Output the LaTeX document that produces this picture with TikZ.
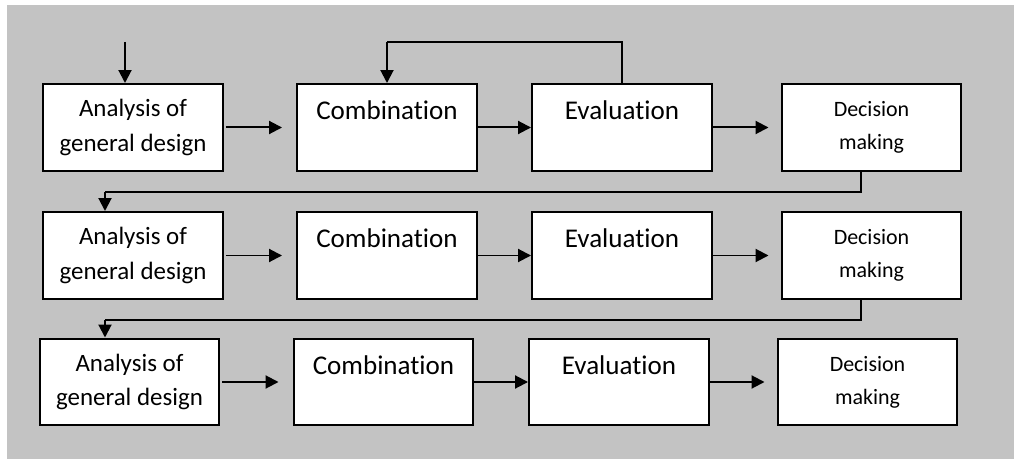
\documentclass[tikz,border=0pt]{standalone}
\usepackage{fontspec}
\setmainfont{Carlito}[Ligatures={NoCommon}]
\usetikzlibrary{arrows.meta}
\definecolor{panelgray}{RGB}{195,195,195}

\tikzset{
  stage/.style={draw=black, fill=white, line width=0.04cm, minimum width=3.6cm,
    minimum height=1.74cm, inner sep=0pt, align=center},
  anbox/.style={stage, font=\fontsize{14.2}{19.4}\selectfont},
  bigbox/.style={stage, font=\fontsize{15.4}{19.4}\selectfont},
  dmbox/.style={stage, font=\fontsize{12.5}{18.8}\selectfont},
  flow/.style={line width=0.04cm, -{Triangle[length=0.26cm, width=0.26cm]}},
  link/.style={line width=0.04cm}
}

\begin{document}
\begin{tikzpicture}[x=0.02cm, y=-0.02cm]

        % Background panel
        \useasboundingbox (0,0) rectangle (1014,459);
        \fill[panelgray] (7,5) rectangle (1014,459);

        % First row
        \node[anbox] (an1) at (133,127.5) {Analysis of\\general design};
        \node[bigbox] (cb1) at (387,127.5) {Combination\\~};
        \node[bigbox] (ev1) at (622,127.5) {Evaluation\\~};
        \node[dmbox] (dm1) at (871.5,127.5) {Decision\\making};

        % Second row
        \node[anbox] (an2) at (133,255.5) {Analysis of\\general design};
        \node[bigbox] (cb2) at (387,255.5) {Combination\\~};
        \node[bigbox] (ev2) at (622,255.5) {Evaluation\\~};
        \node[dmbox] (dm2) at (871.5,255.5) {Decision\\making};

        % Third row
        \node[anbox] (an3) at (129.5,382) {Analysis of\\general design};
        \node[bigbox] (cb3) at (383.5,382) {Combination\\~};
        \node[bigbox] (ev3) at (619,382) {Evaluation\\~};
        \node[dmbox] (dm3) at (867.5,382) {Decision\\making};

        % Bend points
        \coordinate (in) at (125,42);
        \coordinate (fb) at (387,42);
        \coordinate (b12) at (105,192);
        \coordinate (b23) at (105,320);

        % Input and feedback
        \draw[flow] (in) -- (in |- an1.north);
        \draw[link] (ev1.north) |- (fb);
        \draw[flow] (fb) -- (cb1.north);

        % Arrows along the rows
        \foreach \r in {1,2,3} {
          \draw[flow, shorten <=0.04cm, shorten >=0.28cm] (an\r.east) -- (cb\r.west);
          \draw[flow] (cb\r.east) -- (ev\r.west);
          \draw[flow, shorten >=0.24cm] (ev\r.east) -- (dm\r.west);
        }

        % Links between rows
        \draw[link] ([xshift=-0.21cm]dm1.south) |- (b12);
        \draw[flow] (b12) -- (b12 |- an2.north);
        \draw[link] ([xshift=-0.21cm]dm2.south) |- (b23);
        \draw[flow] (b23) -- (b23 |- an3.north);

      \end{tikzpicture}
\end{document}
